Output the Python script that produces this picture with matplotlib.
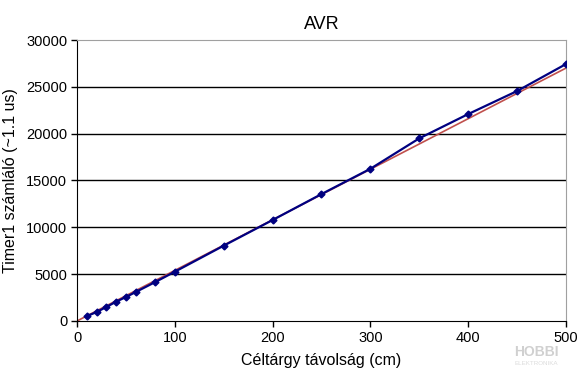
import numpy as np
import matplotlib.pyplot as plt

plt.rcParams['font.family'] = ['Liberation Sans', 'DejaVu Sans']

# measured distance (cm) vs Timer1 counter
tav = [10, 20, 30, 40, 50, 60, 80, 100, 150, 200, 250, 300, 350, 400, 450, 500]
szamlalo = [520, 950, 1500, 2060, 2560, 3090, 4160, 5260, 8040, 10780,
            13550, 16250, 19500, 22090, 24550, 27430]
# trendline slope (counts per cm)
trend_slope = 54.0
x_ticks = [0, 100, 200, 300, 400, 500]
y_ticks = [0, 5000, 10000, 15000, 20000, 25000, 30000]

trend_x = np.array([0, 500])

fig = plt.figure(figsize=(5.8, 3.81), dpi=100)
ax = fig.add_axes([0.1328, 0.1575, 0.843, 0.7375])

for v in y_ticks[1:-1]:
    ax.axhline(v, color='black', lw=1, zorder=1)

ax.plot(trend_x, trend_slope * trend_x, color='#c0504d', lw=1.2, zorder=2)
ax.plot(tav, szamlalo, color='#000080', lw=1.6, marker='D', ms=3.5, zorder=3)

ax.set_xlim(0, 500)
ax.set_ylim(0, 30000)
ax.set_xticks(x_ticks)
ax.set_yticks(y_ticks)
ax.tick_params(labelsize=10.5, direction='out', length=4, width=1, pad=3)
for side in ['top', 'right']:
    ax.spines[side].set_color('#a0a0a0')
for side in ['left', 'bottom']:
    ax.spines[side].set_color('black')

ax.set_title('AVR', fontsize=13, pad=8)
ax.set_xlabel('Céltárgy távolság (cm)', fontsize=11.5, labelpad=6)
ax.set_ylabel('Timer1 számláló (~1.1 us)', fontsize=11.5, labelpad=6)

fig.text(0.925, 0.075, 'HOBBI', color='#d0d0d0', fontsize=10, fontweight='bold',
         ha='center', va='center')
fig.text(0.925, 0.045, 'ELEKTRONIKA', color='#dcdcdc', fontsize=4.5,
         ha='center', va='center')

fig.savefig('out.png', dpi=100)
